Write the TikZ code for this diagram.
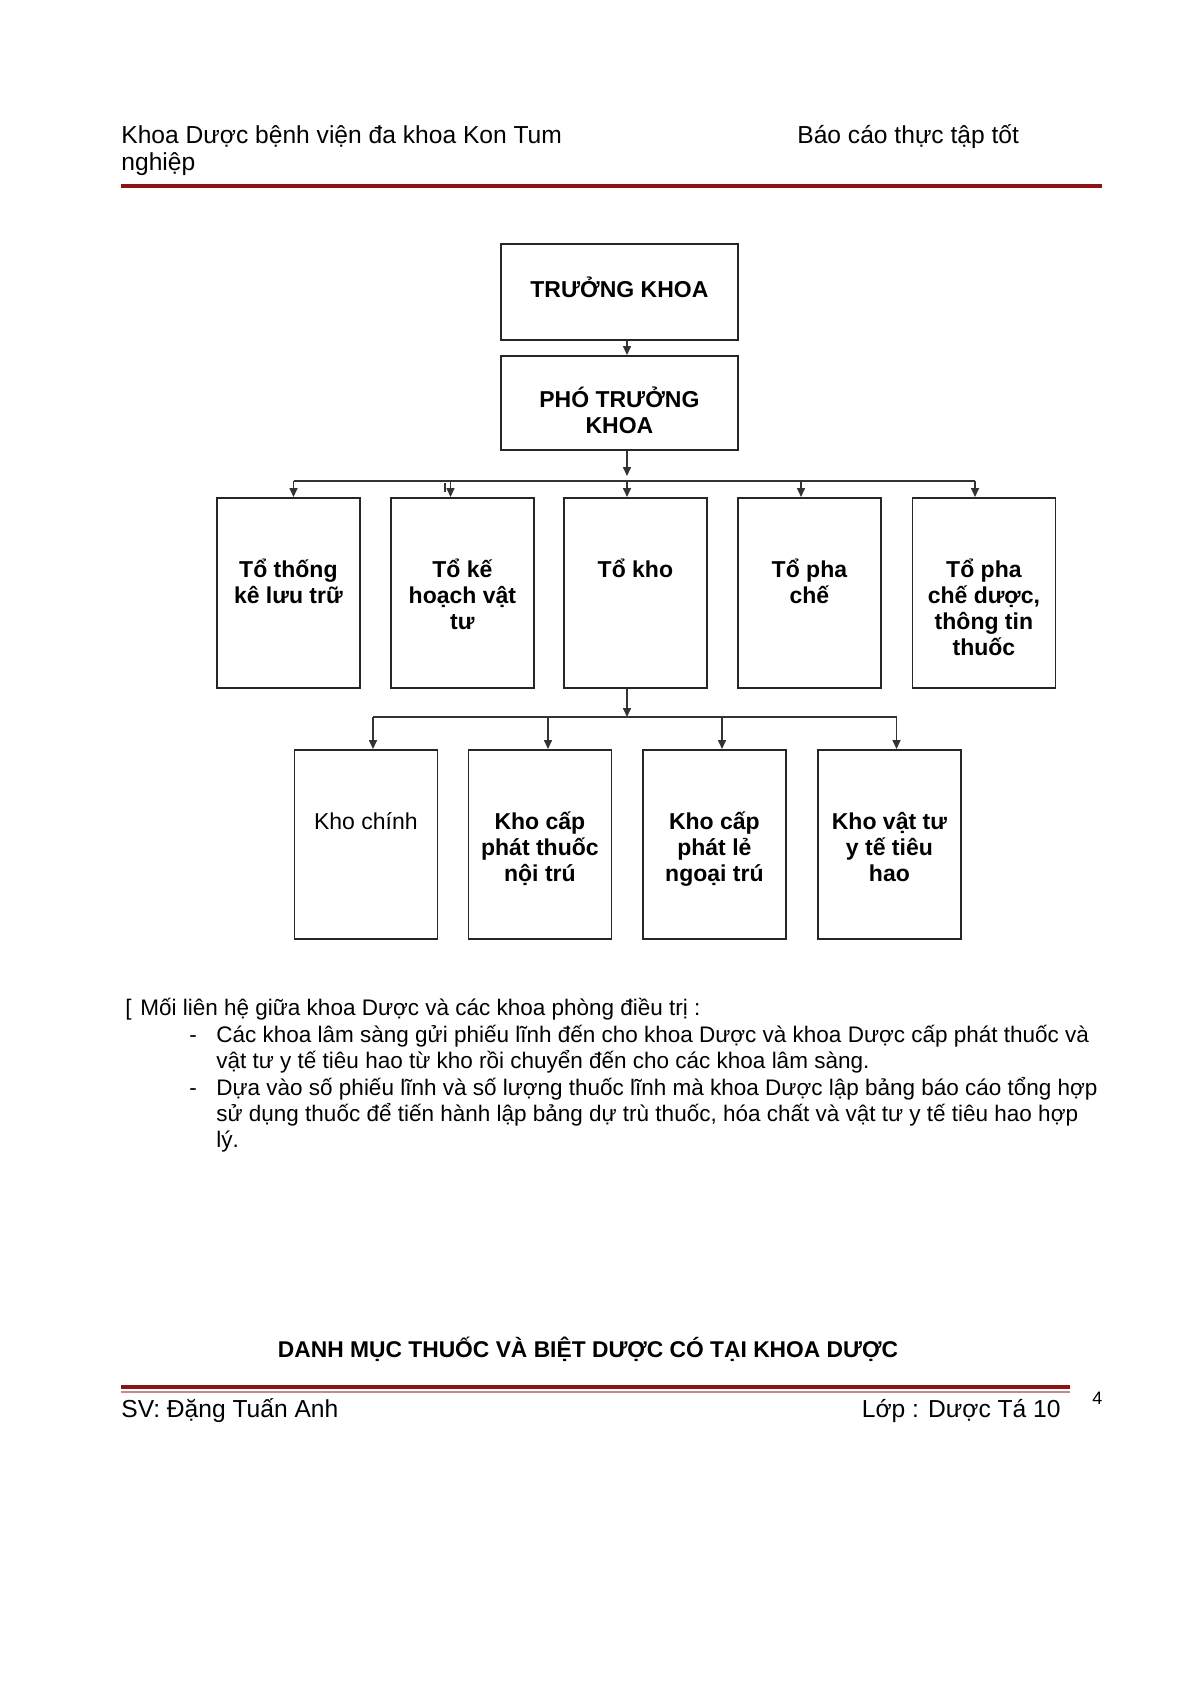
\documentclass[tikz,border=0pt]{standalone}
\usepackage{fontspec}
\setmainfont{Liberation Sans}
\usetikzlibrary{arrows.meta}
\definecolor{darkred}{RGB}{140,20,20}
\newcommand\bxt[4]{\parbox[c][#2][t]{#1}{\centering\lineskiplimit=-30pt\rule{0pt}{#3}#4\par}}
\begin{document}
\begin{tikzpicture}[x=0.5pt,y=-0.5pt,
  bx/.style={draw=black!85, line width=0.9pt, inner sep=0pt, anchor=north west, font=\fontsize{11.5}{12.9}\selectfont\bfseries},
  arr/.style={draw=black!80, line width=0.8pt, -{Triangle[length=4.5pt,width=4pt]}},
  ln/.style={draw=black!80, line width=0.8pt},
  txt/.style={anchor=base west, inner sep=0pt, font=\fontsize{11.25}{13}\selectfont},
  hf/.style={anchor=base west, inner sep=0pt, font=\fontsize{12.3}{14}\selectfont},
  rule/.style={draw=darkred},
]
\useasboundingbox[fill=white] (0,0) rectangle (1191,1685);

% header
\node[hf] (h1) at (121,144) {Khoa Dược bệnh viện đa khoa Kon Tum};
\node[hf] (h2) at (797,144) {Báo cáo thực tập tốt};
\node[hf] (h3) at (121,171) {nghiệp};
\draw[rule, line width=1.75pt] (121,186) -- (1102,186);

% chart boxes
\node[bx] (tk) at (500,243) {\bxt{118.5pt}{48pt}{27pt}{TRƯỞNG KHOA}};
\node[bx] (pho) at (500,355) {\bxt{118.5pt}{47pt}{26pt}{PHÓ TRƯỞNG\\KHOA}};

\node[bx] (ra) at (216,497) {\bxt{71.5pt}{95pt}{40pt}{Tổ thống\\kê lưu trữ}};
\node[bx] (rb) at (390,497) {\bxt{71.5pt}{95pt}{40pt}{Tổ kế\\hoạch vật\\tư}};
\node[bx] (rc) at (563,497) {\bxt{71.5pt}{95pt}{40pt}{Tổ kho}};
\node[bx] (rd) at (737,497) {\bxt{71.5pt}{95pt}{40pt}{Tổ pha\\chế}};
\node[bx] (re) at (911.5,497) {\bxt{71.5pt}{95pt}{40pt}{Tổ pha\\chế dược,\\thông tin\\thuốc}};

\node[bx] (ka) at (293.5,749) {\bxt{71.5pt}{94.5pt}{40pt}{\mdseries Kho chính}};
\node[bx] (kb) at (467.5,749) {\bxt{71.5pt}{94.5pt}{40pt}{Kho cấp\\phát thuốc\\nội trú}};
\node[bx] (kc) at (642,749) {\bxt{71.5pt}{94.5pt}{40pt}{Kho cấp\\phát lẻ\\ngoại trú}};
\node[bx] (kd) at (817,749) {\bxt{71.5pt}{94.5pt}{40pt}{Kho vật tư\\y tế tiêu\\hao}};

% connectors
\coordinate (m1) at (627,481);
\coordinate (m1t) at (627,476);
\draw[arr] (tk.south -| m1) -- (pho.north -| m1);
\draw[arr] (pho.south -| m1) -- (m1t);
\coordinate (c1) at (293.5,481);
\coordinate (c2) at (450.5,481);
\coordinate (c4) at (801,481);
\coordinate (c5) at (975,481);
\draw[ln] (c1) -- (c5);
\draw[arr] (c1) -- (c1 |- ra.north);
\draw[arr] (c2) -- (c2 |- rb.north);
\draw[arr] (m1) -- (m1 |- rc.north);
\draw[arr] (c4) -- (c4 |- rd.north);
\draw[arr] (c5) -- (c5 |- re.north);
\coordinate (s1) at (444.5,483);
\coordinate (s2) at (444.5,492);
\draw[ln, line width=1pt] (s1) -- (s2);

\coordinate (m2) at (627,717);
\draw[arr] (rc.south -| m2) -- (m2);
\coordinate (d1) at (373,717);
\coordinate (d2) at (548,717);
\coordinate (d3) at (722,717);
\coordinate (d4) at (896.5,717);
\draw[ln] (d1) -- (d4);
\draw[arr] (d1) -- (d1 |- ka.north);
\draw[arr] (d2) -- (d2 |- kb.north);
\draw[arr] (d3) -- (d3 |- kc.north);
\draw[arr] (d4) -- (d4 |- kd.north);

% body text
\node[txt] (bl) at (125,1015) {[};
\node[txt] (t1) at (140,1015) {Mối liên hệ giữa khoa Dược và các khoa phòng điều trị :};
\node[txt] (ds1) at (189,1042) {-};
\node[txt] (t2) at (216,1042) {Các khoa lâm sàng gửi phiếu lĩnh đến cho khoa Dược và khoa Dược cấp phát thuốc và};
\node[txt] (t3) at (216,1068) {vật tư y tế tiêu hao từ kho rồi chuyển đến cho các khoa lâm sàng.};
\node[txt] (ds2) at (189,1095) {-};
\node[txt] (t4) at (216,1095) {Dựa vào số phiếu lĩnh và số lượng thuốc lĩnh mà khoa Dược lập bảng báo cáo tổng hợp};
\node[txt] (t5) at (216,1121) {sử dụng thuốc để tiến hành lập bảng dự trù thuốc, hóa chất và vật tư y tế tiêu hao hợp};
\node[txt] (t6) at (216,1147.5) {lý.};

\node[anchor=base, inner sep=0pt, font=\fontsize{11.4}{13}\selectfont\bfseries] (title) at (588,1357) {DANH MỤC THUỐC VÀ BIỆT DƯỢC CÓ TẠI KHOA DƯỢC};

% footer
\draw[rule, line width=2pt] (121,1387) -- (1070,1387);
\draw[draw=darkred!50, line width=0.7pt] (121,1392) -- (1070,1392);
\node[hf] (f1) at (121,1417) {SV: Đặng Tuấn Anh};
\node[hf, anchor=base east] (f2) at (1061,1417) {Lớp : Dược Tá 10};
\node[anchor=base west, inner sep=0pt, font=\fontsize{9}{11}\selectfont] (pg) at (1092,1404) {4};
\end{tikzpicture}
\end{document}
